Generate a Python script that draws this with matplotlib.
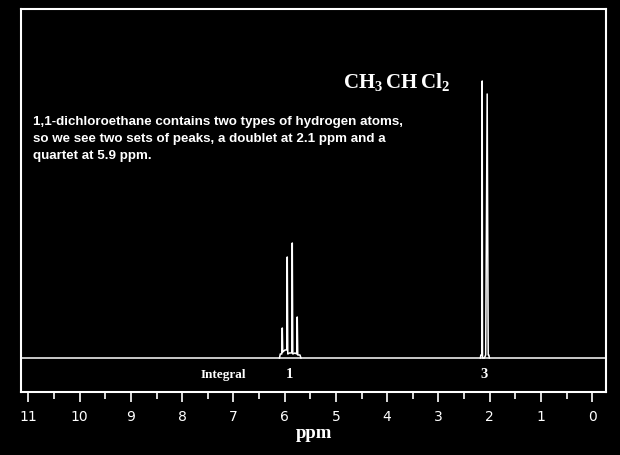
"""CH3CHCl2 proton NMR spectrum, redrawn."""

import matplotlib
matplotlib.use("Agg")
import matplotlib.pyplot as plt
from matplotlib.ticker import MultipleLocator

# quartet near 5.9 ppm (ppm, intensity above baseline)
quartet_ppm = [6.101, 6.085, 6.056, 6.046, 6.037, 5.994, 5.959, 5.949, 5.939,
               5.906, 5.861, 5.851, 5.841, 5.799, 5.764, 5.754, 5.744, 5.701, 5.682]
quartet_int = [0, 4, 4, 30, 6, 8, 8, 101, 4,
               5, 5, 115, 4, 5, 4, 41, 3, 3, 0]

# doublet near 2.1 ppm
doublet_ppm = [2.181, 2.171, 2.151, 2.145, 2.139, 2.103, 2.077, 2.048, 2.028, 2.015, 2.005]
doublet_int = [0, 3, 3, 277, 0, 0, 3, 264, 3, 3, 0]

integral_pos = [5.91, 2.106]
integral_vals = ["1", "3"]

note_lines = [
    "1,1-dichloroethane contains two types of hydrogen atoms,",
    "so we see two sets of peaks, a doublet at 2.1 ppm and a",
    "quartet at 5.9 ppm.",
]

plt.rcParams["mathtext.fontset"] = "custom"
plt.rcParams["mathtext.rm"] = "Liberation Serif:bold"

fig = plt.figure(figsize=(6.2, 4.55), dpi=100, facecolor="black")
ax = fig.add_axes([0.0334, 0.1374, 0.9448, 0.8422], facecolor="black")

ax.axhline(0, color="white", lw=1.1)
ax.plot(quartet_ppm, quartet_int, color="white", lw=1.1)
ax.plot(doublet_ppm, doublet_int, color="white", lw=1.1)

ax.set_xlim(11.15, -0.28)
ax.set_ylim(-34.5, 348.7)

for s in ax.spines.values():
    s.set_color("white")
    s.set_linewidth(1.5)

ax.xaxis.set_major_locator(MultipleLocator(1))
ax.xaxis.set_minor_locator(MultipleLocator(0.5))
ax.tick_params(axis="x", which="major", colors="white", length=7.5, width=1.2,
               pad=5, labelsize=10)
ax.tick_params(axis="x", which="minor", colors="white", length=4.7, width=1.2)
ax.set_yticks([])
ax.set_xlabel("ppm", color="white", family="Liberation Serif", weight="bold",
              fontsize=13.5, labelpad=1)

ax.text(3.81, 270, r"$\mathrm{CH_3\,CH\,Cl_2}$", color="white", fontsize=15,
        ha="center", va="baseline")

for i, line in enumerate(note_lines):
    ax.text(0.0215, 0.698 - 0.045 * i, line, transform=ax.transAxes, color="white",
            family="Liberation Sans", weight="bold", fontsize=9.6, va="baseline")

ax.text(7.63, -20.3, "Integral", color="white", family="Liberation Serif",
        weight="bold", fontsize=9.5, va="baseline")
for p, v in zip(integral_pos, integral_vals):
    ax.text(p, -20.3, v, color="white", family="Liberation Serif", weight="bold",
            fontsize=10.5, ha="center", va="baseline")

fig.savefig("out.png", dpi=100, facecolor="black")
